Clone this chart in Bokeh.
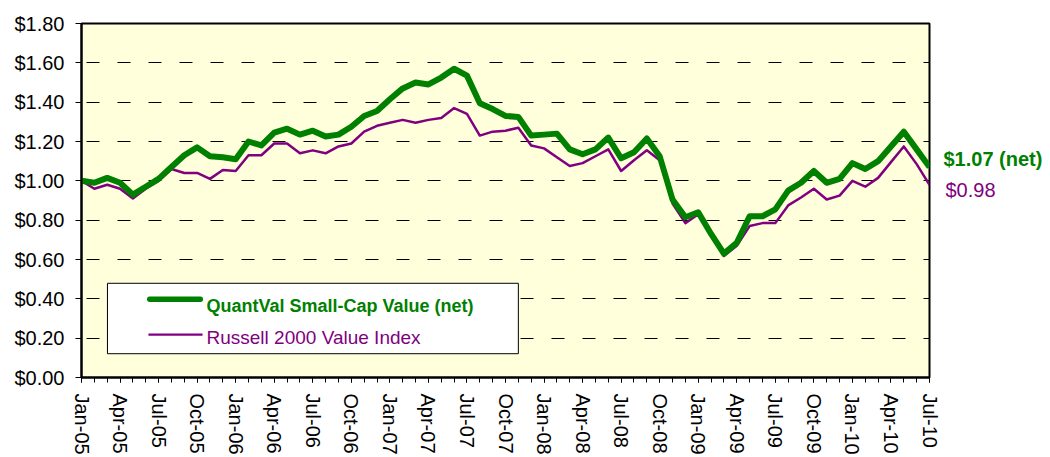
from bokeh.plotting import figure
from bokeh.models import (FixedTicker, NumeralTickFormatter, Label, BoxAnnotation,
                          Range1d, ColumnDataSource, LinearAxis)
from bokeh.embed import file_html
from bokeh.resources import INLINE

# ---------------- data ----------------
tick_labels = ["Jan-05", "Apr-05", "Jul-05", "Oct-05", "Jan-06", "Apr-06", "Jul-06", "Oct-06",
               "Jan-07", "Apr-07", "Jul-07", "Oct-07", "Jan-08", "Apr-08", "Jul-08", "Oct-08",
               "Jan-09", "Apr-09", "Jul-09", "Oct-09", "Jan-10", "Apr-10", "Jul-10"]

quantval = [1.00, 0.99, 1.015, 0.99, 0.93, 0.97, 1.01, 1.07, 1.13, 1.17,
            1.125, 1.12, 1.11, 1.20, 1.18, 1.245, 1.265, 1.235, 1.255, 1.225,
            1.235, 1.275, 1.33, 1.355, 1.415, 1.47, 1.50, 1.49, 1.525, 1.57,
            1.535, 1.395, 1.365, 1.33, 1.325, 1.23, 1.235, 1.24, 1.16, 1.135,
            1.16, 1.22, 1.115, 1.145, 1.215, 1.125, 0.905, 0.815, 0.84, 0.73,
            0.63, 0.685, 0.82, 0.82, 0.855, 0.95, 0.99, 1.05, 0.99, 1.01,
            1.09, 1.06, 1.10, 1.175, 1.25, 1.16, 1.07]

russell = [1.00, 0.96, 0.98, 0.96, 0.91, 0.96, 1.00, 1.06, 1.04, 1.04,
           1.01, 1.055, 1.05, 1.13, 1.13, 1.19, 1.19, 1.14, 1.155, 1.14,
           1.175, 1.19, 1.25, 1.28, 1.295, 1.31, 1.295, 1.31, 1.32, 1.37,
           1.34, 1.23, 1.25, 1.255, 1.27, 1.18, 1.165, 1.12, 1.075, 1.09,
           1.125, 1.16, 1.05, 1.105, 1.155, 1.105, 0.885, 0.785, 0.83, 0.72,
           0.618, 0.67, 0.77, 0.785, 0.785, 0.875, 0.915, 0.96, 0.905, 0.925,
           1.00, 0.97, 1.015, 1.095, 1.175, 1.085, 0.98]

series_names = ["QuantVal Small-Cap Value (net)", "Russell 2000 Value Index"]
y_ticks = [0.0, 0.2, 0.4, 0.6, 0.8, 1.0, 1.2, 1.4, 1.6, 1.8]

months = list(range(len(quantval)))
src = ColumnDataSource(dict(m=months, q=quantval, r=russell))

GREEN = "#008000"
PURPLE = "#800080"
FONT = "Liberation Sans"

p = figure(width=1050, height=457, output_backend="svg", toolbar_location=None,
           x_range=Range1d(months[0], months[-1]), y_range=Range1d(y_ticks[0], y_ticks[-1]),
           min_border_left=81, min_border_right=121, min_border_top=23, min_border_bottom=77)

p.background_fill_color = "#FFFFDB"
p.border_fill_color = "white"
p.outline_line_color = "black"
p.outline_line_width = 2

# grid
p.xgrid.visible = False
p.ygrid.ticker = FixedTicker(ticks=y_ticks[1:-1])
p.ygrid.grid_line_color = "black"
p.ygrid.grid_line_width = 1
p.ygrid.grid_line_dash = "13 18"
p.ygrid.grid_line_dash_offset = 26

# y axis
p.yaxis.ticker = FixedTicker(ticks=y_ticks)
p.yaxis.formatter = NumeralTickFormatter(format="$0.00")
p.yaxis.major_tick_out = 6
p.yaxis.major_tick_in = 0
p.yaxis.minor_tick_out = 0
p.yaxis.minor_tick_in = 0
p.yaxis.major_label_standoff = 11
p.yaxis.major_label_text_font = FONT
p.yaxis.major_label_text_font_size = "20px"
p.yaxis.major_label_text_color = "black"
p.yaxis.axis_line_color = "black"
p.yaxis.axis_line_width = 2
p.yaxis.major_tick_line_color = "black"

# x axis
major = list(range(0, len(months), 3))
p.xaxis.ticker = FixedTicker(ticks=major, minor_ticks=months)
p.xaxis.major_label_overrides = {m: lab for m, lab in zip(major, tick_labels)}
p.xaxis.major_label_orientation = "vertical"
p.xaxis.major_tick_out = 5
p.xaxis.major_tick_in = 0
p.xaxis.minor_tick_out = 5
p.xaxis.minor_tick_in = 0
p.xaxis.major_label_standoff = 11
p.xaxis.major_label_text_font = FONT
p.xaxis.major_label_text_font_size = "20px"
p.xaxis.major_label_text_color = "black"
p.xaxis.axis_line_color = "black"
p.xaxis.axis_line_width = 2
p.xaxis.major_tick_line_color = "black"
p.xaxis.minor_tick_line_color = "black"

# series
p.line("m", "r", source=src, line_color=PURPLE, line_width=2.5, line_join="round")
p.line("m", "q", source=src, line_color=GREEN, line_width=6, line_join="round")

# end-of-series value labels, drawn as right-side axes (outside the frame)
PX = (y_ticks[-1] - y_ticks[0]) / 357.0   # data units per pixel in the frame
end_q = quantval[-1] + 8 * PX
end_r = russell[-1] - 5 * PX
inner_w = 14 + 100   # standoff + approx width of the green label

ax_q = LinearAxis(ticker=FixedTicker(ticks=[end_q], minor_ticks=[]),
                  major_label_overrides={end_q: f"${quantval[-1]:.2f} (net)"})
ax_r = LinearAxis(ticker=FixedTicker(ticks=[end_r], minor_ticks=[]),
                  major_label_overrides={end_r: f"${russell[-1]:.2f}"})
for ax, col, style, standoff in ((ax_q, GREEN, "bold", 14), (ax_r, PURPLE, "normal", 14 - inner_w)):
    ax.axis_line_alpha = 0
    ax.major_tick_out = 0
    ax.major_tick_in = 0
    ax.minor_tick_out = 0
    ax.minor_tick_in = 0
    ax.major_label_standoff = standoff
    ax.major_label_text_color = col
    ax.major_label_text_font = FONT
    ax.major_label_text_font_size = "20px"
    ax.major_label_text_font_style = style
    ax.major_label_text_align = "left"
    p.add_layout(ax, "right")

# legend box (positions in the frame's data space)
p.add_layout(BoxAnnotation(left=2.02, right=34.0, bottom=0.121, top=0.479,
                           fill_color="white", fill_alpha=1.0,
                           line_color="black", line_width=1, line_alpha=1.0))
p.add_layout(BoxAnnotation(left=5.10, right=9.46, bottom=0.398 - 0.0136, top=0.398 + 0.0136,
                           fill_color=GREEN, fill_alpha=1.0, line_alpha=0, border_radius=3))
p.add_layout(BoxAnnotation(left=5.21, right=9.42, bottom=0.218 - 0.0063, top=0.218 + 0.0063,
                           fill_color=PURPLE, fill_alpha=1.0, line_alpha=0))
p.add_layout(Label(x=9.73, y=0.363, text=series_names[0], text_color=GREEN,
                   text_font=FONT, text_font_size="18px", text_font_style="bold",
                   text_baseline="alphabetic"))
p.add_layout(Label(x=9.73, y=0.205, text=series_names[1], text_color=PURPLE,
                   text_font=FONT, text_font_size="19px",
                   text_baseline="alphabetic"))

open("out.html", "w").write(file_html(p, INLINE))
